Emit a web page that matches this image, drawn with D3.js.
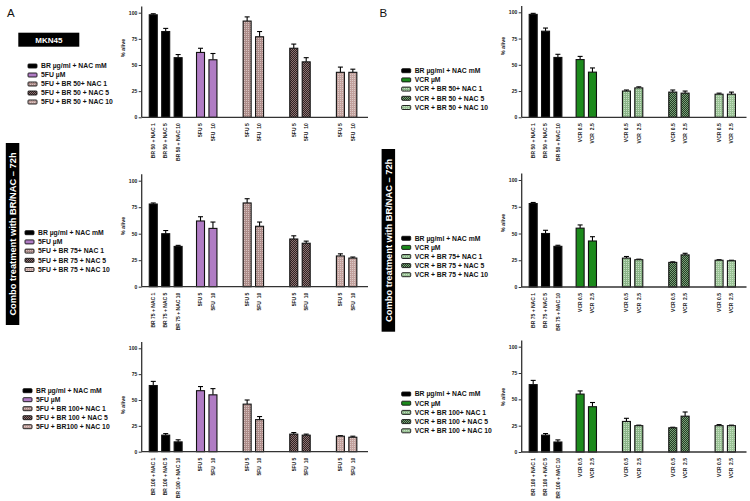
<!DOCTYPE html>
<html><head><meta charset="utf-8">
<script src="https://cdn.jsdelivr.net/npm/d3@7"></script>
<style>body{margin:0;background:#fff}svg{display:block}text{font-family:"Liberation Sans",Arial,sans-serif}</style>
</head><body><div id="chart"></div>
<script>
// ---------- DATA ----------
const groupSizes = [3, 2, 2, 2, 2];
const yTicks = [0, 25, 50, 75, 100];

const labelsA50  = ["BR 50 + NAC 1","BR 50 + NAC 5","BR 50 + NAC 10","5FU 5","5FU  10","5FU 5","5FU  10","5FU 5","5FU  10","5FU 5","5FU  10"];
const labelsA75  = ["BR 75 + NAC 1","BR 75 + NAC 5","BR 75 + NAC 10","5FU 5","5FU  10","5FU 5","5FU  10","5FU 5","5FU  10","5FU 5","5FU  10"];
const labelsA100 = ["BR 100 + NAC 1","BR 100 + NAC 5","BR 100 + NAC 10","5FU 5","5FU  10","5FU 5","5FU  10","5FU 5","5FU  10","5FU 5","5FU  10"];
const labelsB50  = ["BR 50 + NAC 1","BR 50 + NAC 5","BR 50 + NAC 10","VCR 0.5","VCR  2.5","VCR 0.5","VCR  2.5","VCR 0.5","VCR  2.5","VCR 0.5","VCR  2.5"];
const labelsB75  = ["BR 75 + NAC 1","BR 75 + NAC 5","BR 75 + NAC 10","VCR 0.5","VCR  2.5","VCR 0.5","VCR  2.5","VCR 0.5","VCR  2.5","VCR 0.5","VCR  2.5"];
const labelsB100 = ["BR 100 + NAC 1","BR 100 + NAC 5","BR 100 + NAC 10","VCR 0.5","VCR  2.5","VCR 0.5","VCR  2.5","VCR 0.5","VCR  2.5","VCR 0.5","VCR  2.5"];

const valuesA50  = [98, 82, 57, 62, 55, 92, 77, 66, 53, 43, 43];
const errorsA50  = [1, 3, 3, 4, 6, 4, 5, 4, 4, 5, 3];
const valuesA75  = [78, 50, 38, 62, 55, 79, 57, 45, 41, 29, 27];
const errorsA75  = [1, 3, 1, 4, 6, 4, 4, 3, 2, 2, 1];
const valuesA100 = [64, 16, 9.5, 59, 55, 46, 31, 17, 16, 15, 14];
const errorsA100 = [4, 1.5, 2, 4, 6, 4, 3, 1.5, 1, 0.5, 1];
const valuesB50  = [98, 82, 57, 55, 43, 25, 28, 24, 23, 22, 22];
const errorsB50  = [1, 3, 3, 3, 4, 1, 1, 2, 2, 1, 2];
const valuesB75  = [78, 50, 38, 55, 43, 27, 25.5, 23, 30, 25, 24.5];
const errorsB75  = [1, 3, 1, 3, 4, 1.5, 0.5, 0.5, 1.5, 0.5, 0.5];
const valuesB100 = [64, 16, 9.5, 55, 43, 29, 25, 23, 34, 25, 25];
const errorsB100 = [4, 1.5, 2, 3, 4, 3, 0.5, 0.5, 4, 1, 0.5];

const legendA50  = ["BR µg/ml + NAC mM","5FU µM","5FU + BR 50+ NAC 1","5FU + BR 50 + NAC 5","5FU + BR 50 + NAC 10"];
const legendA75  = ["BR µg/ml + NAC mM","5FU µM","5FU + BR 75+ NAC 1","5FU + BR 75 + NAC 5","5FU + BR 75 + NAC 10"];
const legendA100 = ["BR µg/ml + NAC mM","5FU µM","5FU + BR 100+ NAC 1","5FU + BR 100 + NAC 5","5FU + BR100 + NAC 10"];
const legendB50  = ["BR µg/ml + NAC mM","VCR µM","VCR + BR 50+ NAC 1","VCR + BR 50 + NAC 5","VCR + BR 50 + NAC 10"];
const legendB75  = ["BR µg/ml + NAC mM","VCR µM","VCR + BR 75+ NAC 1","VCR + BR 75 + NAC 5","VCR + BR 75 + NAC 10"];
const legendB100 = ["BR µg/ml + NAC mM","VCR µM","VCR + BR 100+ NAC 1","VCR + BR 100 + NAC 5","VCR + BR 100 + NAC 10"];

const bannerText = "Combo treatment with BR/NAC – 72h";
const cellLine = "MKN45";
const yTitle = "% alive";

// ---------- DRAW ----------
const W = 750, H = 501;
const svg = d3.select("#chart").append("svg").attr("width", W).attr("height", H);
const defs = svg.append("defs");

function dotPattern(id, base, dot, checker) {
  const p = defs.append("pattern").attr("id", id).attr("patternUnits", "userSpaceOnUse")
    .attr("width", 2).attr("height", 2);
  p.append("rect").attr("width", 2).attr("height", 2).attr("fill", base);
  p.append("rect").attr("x", 0).attr("y", 0).attr("width", 1).attr("height", 1).attr("fill", dot);
  if (checker) p.append("rect").attr("x", 1).attr("y", 1).attr("width", 1).attr("height", 1).attr("fill", dot);
}
dotPattern("pA3", "#ad8c89", "#d6c2bf", false);
dotPattern("pA4", "#2e2222", "#8d7272", true);
dotPattern("pA5", "#c2a19d", "#dccbc8", false);
dotPattern("pB3", "#8bb588", "#c6dec3", false);
dotPattern("pB4", "#243d25", "#79a077", true);
dotPattern("pB5", "#9bc396", "#c9e1c5", false);

const fillsA = ["#000000", "#b07cc4", "url(#pA3)", "url(#pA4)", "url(#pA5)"];
const fillsB = ["#000000", "#1c8a1c", "url(#pB3)", "url(#pB4)", "url(#pB5)"];

// slot positions from group structure
function slots() {
  const pos = [], grp = [];
  let s = 0.93;
  groupSizes.forEach((n, g) => {
    for (let i = 0; i < n; i++) { pos.push(s + i); grp.push(g); }
    s = s + (n - 1) + (g === 0 ? 1.8 : 2.75);
  });
  return { pos, grp };
}
const SL = slots();

function drawPanel(p) {
  const x = d3.scaleLinear().domain([0, 18.2]).range([p.x0, p.x1]);
  const y = d3.scaleLinear().domain([0, 100]).range([p.y0, p.y100]);
  const g = svg.append("g");
  const bw = 8;
  const data = p.values.map((v, i) => ({ v, e: p.errors[i], pos: SL.pos[i], grp: SL.grp[i], lab: p.labels[i] }));

  // error bars (upward)
  data.forEach(d => {
    const cx = x(d.pos);
    g.append("line").attr("x1", cx).attr("x2", cx).attr("y1", y(d.v)).attr("y2", y(d.v + d.e))
      .attr("stroke", "#000").attr("stroke-width", 1.1);
    g.append("line").attr("x1", cx - 2.5).attr("x2", cx + 2.5).attr("y1", y(d.v + d.e)).attr("y2", y(d.v + d.e))
      .attr("stroke", "#000").attr("stroke-width", 1.1);
  });
  g.selectAll("rect.bar").data(data).join("rect").attr("class", "bar")
    .attr("x", d => x(d.pos) - bw / 2).attr("width", bw)
    .attr("y", d => y(d.v)).attr("height", d => y(0) - y(d.v))
    .attr("fill", d => p.fills[d.grp]).attr("stroke", "#111").attr("stroke-width", 1.1);

  // y axis
  const ya = d3.axisLeft(y).tickValues(yTicks).tickSize(3).tickPadding(1.5).tickFormat(d3.format("d"));
  const ag = g.append("g").attr("transform", `translate(${p.x0},0)`).call(ya);
  ag.select(".domain").remove();
  ag.selectAll("line").attr("stroke", "#333").attr("stroke-width", 1);
  ag.selectAll("text").attr("font-size", 5).attr("font-weight", "bold").attr("fill", "#222");
  g.append("line").attr("x1", p.x0).attr("x2", p.x0).attr("y1", y(0)).attr("y2", y(106))
    .attr("stroke", "#333").attr("stroke-width", 1.3);
  g.append("line").attr("x1", p.x0).attr("x2", p.x1).attr("y1", y(0)).attr("y2", y(0))
    .attr("stroke", "#333").attr("stroke-width", 1.3);

  // x labels
  data.forEach(d => {
    g.append("text").attr("transform", `translate(${x(d.pos) + 1.8},${y(0) + 6}) rotate(-90)`)
      .attr("text-anchor", "end").attr("font-size", 5).attr("font-weight", "bold").attr("fill", "#222")
      .attr("xml:space", "preserve").style("white-space", "pre").text(d.lab);
  });

  // y title
  g.append("text").attr("transform", `translate(${p.x0 - 17},${p.yTitle}) rotate(-90)`)
    .attr("text-anchor", "middle").attr("font-size", 5.5).attr("font-weight", "bold").attr("fill", "#222").text(yTitle);

  // legend
  p.legend.forEach((t, i) => {
    const ly = p.ly + i * p.lstep;
    g.append("rect").attr("x", p.lx).attr("y", ly - 2).attr("width", 9).attr("height", 4)
      .attr("fill", p.fills[i]).attr("stroke", "#111").attr("stroke-width", 0.9).attr("rx", 0.8);
    g.append("text").attr("x", p.lx + 13).attr("y", ly).attr("dy", "0.35em")
      .attr("font-size", 6.8).attr("font-weight", "bold").attr("fill", "#111").text(t);
  });
}

const panels = [
  { x0: 141.7, x1: 368, y0: 117.3, y100: 12.7, values: valuesA50, errors: errorsA50, labels: labelsA50, fills: fillsA, legend: legendA50, lx: 28, ly: 66, lstep: 9, yTitle: 48 },
  { x0: 141.7, x1: 368, y0: 286.7, y100: 180.7, values: valuesA75, errors: errorsA75, labels: labelsA75, fills: fillsA, legend: legendA75, lx: 25, ly: 232.7, lstep: 9.2, yTitle: 226 },
  { x0: 141.7, x1: 368, y0: 451.7, y100: 348.3, values: valuesA100, errors: errorsA100, labels: labelsA100, fills: fillsA, legend: legendA100, lx: 23, ly: 390.7, lstep: 9, yTitle: 405 },
  { x0: 521.7, x1: 746.5, y0: 117.3, y100: 12.3, values: valuesB50, errors: errorsB50, labels: labelsB50, fills: fillsB, legend: legendB50, lx: 401.7, ly: 70.7, lstep: 9.2, yTitle: 46 },
  { x0: 521.7, x1: 746.5, y0: 287, y100: 180, values: valuesB75, errors: errorsB75, labels: labelsB75, fills: fillsB, legend: legendB75, lx: 401.7, ly: 238.3, lstep: 9.1, yTitle: 223 },
  { x0: 521.7, x1: 746.5, y0: 452, y100: 346.7, values: valuesB100, errors: errorsB100, labels: labelsB100, fills: fillsB, legend: legendB100, lx: 401.7, ly: 394, lstep: 9.2, yTitle: 397 }
];
panels.forEach(drawPanel);

// panel letters
svg.append("text").attr("x", 7).attr("y", 16.5).attr("font-size", 11.5).attr("fill", "#111").text("A");
svg.append("text").attr("x", 379.5).attr("y", 16.5).attr("font-size", 11.5).attr("fill", "#111").text("B");

// MKN45 box
svg.append("rect").attr("x", 18.3).attr("y", 32.7).attr("width", 61).attr("height", 14).attr("fill", "#000");
svg.append("text").attr("x", 48.8).attr("y", 39.7).attr("dy", "0.35em").attr("text-anchor", "middle")
  .attr("font-size", 8).attr("font-weight", "bold").attr("fill", "#fff").text(cellLine);

// banners
function banner(x, y1, y2) {
  svg.append("rect").attr("x", x).attr("y", y1).attr("width", 13.5).attr("height", y2 - y1).attr("fill", "#000");
  svg.append("text").attr("transform", `translate(${x + 6.75},${(y1 + y2) / 2}) rotate(-90)`)
    .attr("text-anchor", "middle").attr("dy", "0.35em").attr("font-size", 9.3).attr("font-weight", "bold")
    .attr("fill", "#fff").text(bannerText);
}
banner(5.8, 143, 325);
banner(381.6, 149, 331.7);
</script></body></html>
